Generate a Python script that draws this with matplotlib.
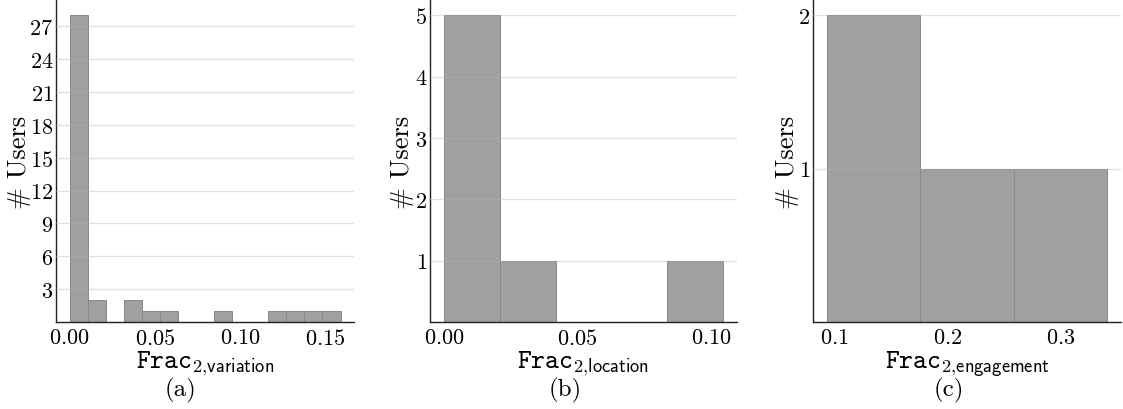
import numpy as np
import matplotlib
matplotlib.use("Agg")
import matplotlib.pyplot as plt
from matplotlib.ticker import MultipleLocator

plt.rcParams['font.family'] = 'serif'
plt.rcParams['font.serif'] = ['cmr10']
plt.rcParams['mathtext.fontset'] = 'cm'
plt.rcParams['axes.formatter.use_mathtext'] = True

# histogram counts
variation_counts = [28, 2, 0, 2, 1, 1, 0, 0, 1, 0, 0, 1, 1, 1, 1]
variation_range = (0.0, 0.159)
location_counts = [5, 1, 0, 0, 1]
location_range = (0.0, 0.1045)
engagement_counts = [2, 1, 1]
engagement_range = (0.0935, 0.3413)

x_labels = [r'$\mathtt{Frac}_{\mathsf{2{,}variation}}$',
            r'$\mathtt{Frac}_{\mathsf{2{,}location}}$',
            r'$\mathtt{Frac}_{\mathsf{2{,}engagement}}$']
captions = ['(a)', '(b)', '(c)']
x_steps = [0.05, 0.05, 0.1]
y_ticks = [list(range(3, 28, 3)), [1, 2, 3, 4, 5], [1, 2]]

fig = plt.figure(figsize=(11.23, 4.10), dpi=100)
axes = [fig.add_axes([0.0499, 0.212, 0.2654, 0.786]),
        fig.add_axes([0.3829, 0.212, 0.2734, 0.786]),
        fig.add_axes([0.7240, 0.212, 0.2743, 0.786])]

panels = [(variation_counts, variation_range),
          (location_counts, location_range),
          (engagement_counts, engagement_range)]
ylab_x = [-0.085, -0.052, -0.047]
cap_x = [0.161, 0.503, 0.845]

for i, (ax, (counts, rng)) in enumerate(zip(axes, panels)):
    edges = np.linspace(rng[0], rng[1], len(counts) + 1)
    ax.hist(edges[:-1], bins=edges, weights=counts,
            color='#a0a0a0', edgecolor='#888888', linewidth=0.7)
    ax.xaxis.set_major_locator(MultipleLocator(x_steps[i]))
    ax.set_yticks(y_ticks[i])
    ax.tick_params(length=0, labelsize=16)
    ax.tick_params(axis='y', pad=2)
    ax.tick_params(axis='x', pad=4)
    ax.set_axisbelow(False)
    ax.yaxis.grid(True, color='#b4b4b4', alpha=0.4, linewidth=1)
    for s in ['top', 'right']:
        ax.spines[s].set_visible(False)
    for s in ['left', 'bottom']:
        ax.spines[s].set_color('#222222')
        ax.spines[s].set_linewidth(1.0)
    ax.set_ylabel('# Users', fontsize=19)
    ax.yaxis.set_label_coords(ylab_x[i], 0.5)
    ax.set_xlabel(x_labels[i], fontsize=19, labelpad=1)
    fig.text(cap_x[i], 0.048, captions[i], fontsize=18, ha='center', va='center')

fig.savefig('out.png', dpi=100)
